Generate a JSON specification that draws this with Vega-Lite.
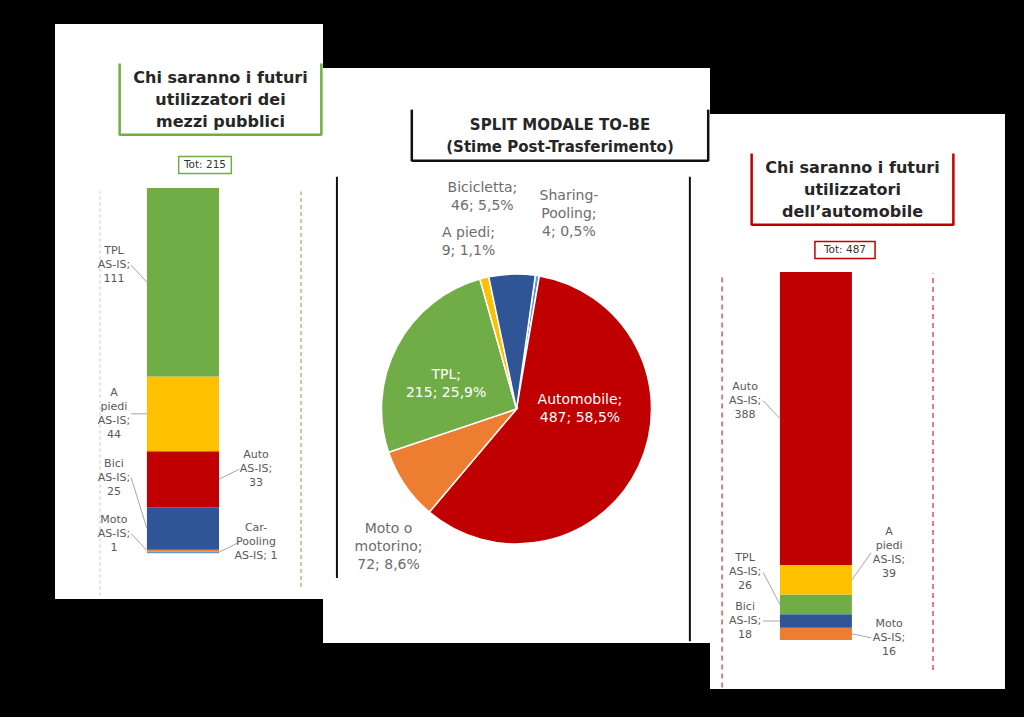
{
  "$schema": "https://vega.github.io/schema/vega-lite/v6.json",
  "background": "black",
  "padding": {"left": 55, "top": 24, "right": 19, "bottom": 28},
  "config": {"view": {"stroke": null, "fill": "white"}, "font": "DejaVu Sans"},
  "datasets": {
    "tpl": [
      {"modo": "Car-Pooling", "valore": 1, "ordine": 1, "etichetta": "Car-\nPooling\nAS-IS; 1"},
      {"modo": "Moto", "valore": 1, "ordine": 2, "etichetta": "Moto\nAS-IS;\n1"},
      {"modo": "Bici", "valore": 25, "ordine": 3, "etichetta": "Bici\nAS-IS;\n25"},
      {"modo": "Auto", "valore": 33, "ordine": 4, "etichetta": "Auto\nAS-IS;\n33"},
      {"modo": "A piedi", "valore": 44, "ordine": 5, "etichetta": "A\npiedi\nAS-IS;\n44"},
      {"modo": "TPL", "valore": 111, "ordine": 6, "etichetta": "TPL\nAS-IS;\n111"}
    ],
    "auto": [
      {"modo": "Moto", "valore": 16, "ordine": 1, "etichetta": "Moto\nAS-IS;\n16"},
      {"modo": "Bici", "valore": 18, "ordine": 2, "etichetta": "Bici\nAS-IS;\n18"},
      {"modo": "TPL", "valore": 26, "ordine": 3, "etichetta": "TPL\nAS-IS;\n26"},
      {"modo": "A piedi", "valore": 39, "ordine": 4, "etichetta": "A\npiedi\nAS-IS;\n39"},
      {"modo": "Auto", "valore": 388, "ordine": 5, "etichetta": "Auto\nAS-IS;\n388"}
    ],
    "split": [
      {"modo": "Sharing-Pooling", "valore": 4, "ordine": 1, "etichetta": "Sharing-\nPooling;\n4; 0,5%"},
      {"modo": "Automobile", "valore": 487, "ordine": 2, "etichetta": "Automobile;\n487; 58,5%"},
      {"modo": "Moto o motorino", "valore": 72, "ordine": 3, "etichetta": "Moto o\nmotorino;\n72; 8,6%"},
      {"modo": "TPL", "valore": 215, "ordine": 4, "etichetta": "TPL;\n215;  25,9%"},
      {"modo": "A piedi", "valore": 9, "ordine": 5, "etichetta": "A piedi;\n9; 1,1%"},
      {"modo": "Bicicletta", "valore": 46, "ordine": 6, "etichetta": "Bicicletta;\n46; 5,5%"}
    ],
    "uno": [{}]
  },
  "spacing": 0,
  "hconcat": [
    {
      "spacing": 0,
      "vconcat": [
        {"width": 268, "height": 38, "data": {"name": "uno"}, "mark": {"type": "rect", "color": "white"}, "encoding": {"x": {"datum": 0, "type": "quantitative", "scale": {"domain": [0, 1]}, "axis": null}, "x2": {"datum": 1}, "y": {"datum": 0, "type": "quantitative", "scale": {"domain": [0, 1]}, "axis": null}, "y2": {"datum": 1}}},
        {"spacing": 0, "hconcat": [
          {"width": 63, "height": 75, "data": {"name": "uno"}, "mark": {"type": "rect", "color": "white"}, "encoding": {"x": {"datum": 0, "type": "quantitative", "scale": {"domain": [0, 1]}, "axis": null}, "x2": {"datum": 1}, "y": {"datum": 0, "type": "quantitative", "scale": {"domain": [0, 1]}, "axis": null}, "y2": {"datum": 1}}},
          {"width": 205, "height": 75,
           "data": {"values": [{"t": "Chi saranno i futuri\nutilizzatori dei\nmezzi pubblici"}]},
           "layer": [
             {"mark": {"type": "rule", "color": "#70ad47", "strokeWidth": 2.5}, "encoding": {"x": {"datum": 0.008, "type": "quantitative", "scale": {"domain": [0, 1]}, "axis": null}, "y": {"datum": 0.02, "type": "quantitative", "scale": {"domain": [0, 1]}, "axis": null}, "y2": {"datum": 0.98}}},
             {"mark": {"type": "rule", "color": "#70ad47", "strokeWidth": 2.5}, "encoding": {"x": {"datum": 0.992, "type": "quantitative", "scale": {"domain": [0, 1]}, "axis": null}, "y": {"datum": 0.02, "type": "quantitative", "scale": {"domain": [0, 1]}, "axis": null}, "y2": {"datum": 0.98}}},
             {"mark": {"type": "rule", "color": "#70ad47", "strokeWidth": 2.5}, "encoding": {"x": {"datum": 0.008, "type": "quantitative", "scale": {"domain": [0, 1]}, "axis": null}, "x2": {"datum": 0.992}, "y": {"datum": 0.03, "type": "quantitative", "scale": {"domain": [0, 1]}, "axis": null}}},
             {"mark": {"type": "text", "dy": -22, "fontSize": 16, "fontWeight": "bold", "lineHeight": 22, "color": "#262626", "align": "center", "baseline": "middle", "lineBreak": "\n"}, "encoding": {"x": {"datum": 0.5, "type": "quantitative", "scale": {"domain": [0, 1]}, "axis": null}, "y": {"datum": 0.5, "type": "quantitative", "scale": {"domain": [0, 1]}, "axis": null}, "text": {"field": "t"}}}
           ]}
        ]},
        {"width": 268, "height": 18, "data": {"name": "uno"}, "mark": {"type": "rect", "color": "white"}, "encoding": {"x": {"datum": 0, "type": "quantitative", "scale": {"domain": [0, 1]}, "axis": null}, "x2": {"datum": 1}, "y": {"datum": 0, "type": "quantitative", "scale": {"domain": [0, 1]}, "axis": null}, "y2": {"datum": 1}}},
        {"spacing": 0, "hconcat": [
          {"width": 122, "height": 20, "data": {"name": "uno"}, "mark": {"type": "rect", "color": "white"}, "encoding": {"x": {"datum": 0, "type": "quantitative", "scale": {"domain": [0, 1]}, "axis": null}, "x2": {"datum": 1}, "y": {"datum": 0, "type": "quantitative", "scale": {"domain": [0, 1]}, "axis": null}, "y2": {"datum": 1}}},
          {"width": 56, "height": 20,
           "data": {"values": [{"t": "Tot: 215"}]},
           "layer": [
             {"mark": {"type": "rect", "fill": "white", "stroke": "#70ad47", "strokeWidth": 1.5}, "encoding": {"x": {"datum": 0.03, "type": "quantitative", "scale": {"domain": [0, 1]}, "axis": null}, "x2": {"datum": 0.97}, "y": {"datum": 0.07, "type": "quantitative", "scale": {"domain": [0, 1]}, "axis": null}, "y2": {"datum": 0.93}}},
             {"mark": {"type": "text", "fontSize": 10.5, "color": "#333333", "align": "center", "baseline": "middle"}, "encoding": {"x": {"datum": 0.5, "type": "quantitative", "scale": {"domain": [0, 1]}, "axis": null}, "y": {"datum": 0.5, "type": "quantitative", "scale": {"domain": [0, 1]}, "axis": null}, "text": {"field": "t"}}}
           ]},
          {"width": 90, "height": 20, "data": {"name": "uno"}, "mark": {"type": "rect", "color": "white"}, "encoding": {"x": {"datum": 0, "type": "quantitative", "scale": {"domain": [0, 1]}, "axis": null}, "x2": {"datum": 1}, "y": {"datum": 0, "type": "quantitative", "scale": {"domain": [0, 1]}, "axis": null}, "y2": {"datum": 1}}}
        ]},
        {"width": 268, "height": 13, "data": {"name": "uno"}, "mark": {"type": "rect", "color": "white"}, "encoding": {"x": {"datum": 0, "type": "quantitative", "scale": {"domain": [0, 1]}, "axis": null}, "x2": {"datum": 1}, "y": {"datum": 0, "type": "quantitative", "scale": {"domain": [0, 1]}, "axis": null}, "y2": {"datum": 1}}},
        {
          "width": 268, "height": 411,
          "data": {"name": "tpl"},
          "transform": [
            {"stack": "valore", "groupby": [], "sort": [{"field": "ordine", "order": "ascending"}], "as": ["y0", "y1"]},
            {"calculate": "(datum.y0 + datum.y1) / 2", "as": "ym"}
          ],
          "layer": [
            {"data": {"name": "uno"}, "mark": {"type": "rule", "color": "#c8c8c8", "strokeDash": [3, 3], "strokeWidth": 1}, "encoding": {"x": {"datum": 0.168, "type": "quantitative", "scale": {"domain": [0, 1]}, "axis": null}, "y": {"datum": -25, "type": "quantitative", "scale": {"domain": [-27, 215], "nice": false, "zero": false}, "axis": null}, "y2": {"datum": 213}}},
            {"data": {"name": "uno"}, "mark": {"type": "rule", "color": "#9dc97e", "strokeDash": [4, 3], "strokeWidth": 1.5}, "encoding": {"x": {"datum": 0.918, "type": "quantitative", "axis": null}, "y": {"datum": -20, "type": "quantitative", "axis": null}, "y2": {"datum": 213}}},
            {"mark": {"type": "bar"}, "encoding": {
              "x": {"datum": 0.343, "type": "quantitative", "scale": {"domain": [0, 1]}, "axis": null},
              "x2": {"datum": 0.612},
              "y": {"field": "y0", "type": "quantitative", "scale": {"domain": [-27, 215], "nice": false, "zero": false}, "axis": null},
              "y2": {"field": "y1"},
              "color": {"field": "modo", "type": "nominal", "legend": null, "scale": {"domain": ["TPL", "A piedi", "Auto", "Bici", "Moto", "Car-Pooling", "Automobile", "Moto o motorino", "Bicicletta", "Sharing-Pooling"], "range": ["#70ad47", "#ffc000", "#c00000", "#2f5597", "#ed7d31", "#5b9bd5", "#c00000", "#ed7d31", "#2f5597", "#5b9bd5"]}}
            }},
            {"transform": [{"filter": {"field": "modo", "oneOf": ["TPL", "Moto"]}}], "mark": {"type": "rule", "yOffset": -17, "color": "#a6a6a6", "strokeWidth": 1}, "encoding": {"x": {"datum": 0.284, "type": "quantitative", "axis": null}, "x2": {"datum": 0.343}, "y": {"field": "ym", "type": "quantitative", "axis": null}, "y2": {"field": "ym"}}},
            {"transform": [{"filter": {"field": "modo", "oneOf": ["TPL", "Moto"]}}], "mark": {"type": "text", "dy": -31, "fontSize": 11, "lineHeight": 14, "color": "#595959", "align": "center", "baseline": "middle", "lineBreak": "\n"}, "encoding": {"x": {"datum": 0.22, "type": "quantitative", "axis": null}, "y": {"field": "ym", "type": "quantitative", "axis": null}, "text": {"field": "etichetta"}}},
            {"transform": [{"filter": {"field": "modo", "equal": "A piedi"}}], "mark": {"type": "rule", "color": "#a6a6a6", "strokeWidth": 1}, "encoding": {"x": {"datum": 0.284, "type": "quantitative", "axis": null}, "x2": {"datum": 0.343}, "y": {"field": "ym", "type": "quantitative", "axis": null}, "y2": {"field": "ym"}}},
            {"transform": [{"filter": {"field": "modo", "equal": "A piedi"}}], "mark": {"type": "text", "dy": -21, "fontSize": 11, "lineHeight": 14, "color": "#595959", "align": "center", "baseline": "middle", "lineBreak": "\n"}, "encoding": {"x": {"datum": 0.22, "type": "quantitative", "axis": null}, "y": {"field": "ym", "type": "quantitative", "axis": null}, "text": {"field": "etichetta"}}},
            {"transform": [{"filter": {"field": "modo", "equal": "Bici"}}], "mark": {"type": "rule", "yOffset": -51, "color": "#a6a6a6", "strokeWidth": 1}, "encoding": {"x": {"datum": 0.284, "type": "quantitative", "axis": null}, "x2": {"datum": 0.343}, "y": {"field": "ym", "type": "quantitative", "axis": null}, "y2": {"field": "ym"}}},
            {"transform": [{"filter": {"field": "modo", "equal": "Bici"}}], "mark": {"type": "text", "dy": -65, "fontSize": 11, "lineHeight": 14, "color": "#595959", "align": "center", "baseline": "middle", "lineBreak": "\n"}, "encoding": {"x": {"datum": 0.22, "type": "quantitative", "axis": null}, "y": {"field": "ym", "type": "quantitative", "axis": null}, "text": {"field": "etichetta"}}},
            {"transform": [{"filter": {"field": "modo", "oneOf": ["Auto", "Car-Pooling"]}}], "mark": {"type": "rule", "yOffset": -10, "color": "#a6a6a6", "strokeWidth": 1}, "encoding": {"x": {"datum": 0.687, "type": "quantitative", "axis": null}, "x2": {"datum": 0.612}, "y": {"field": "ym", "type": "quantitative", "axis": null}, "y2": {"field": "ym"}}},
            {"transform": [{"filter": {"field": "modo", "oneOf": ["Auto", "Car-Pooling"]}}], "mark": {"type": "text", "dy": -24, "fontSize": 11, "lineHeight": 14, "color": "#595959", "align": "center", "baseline": "middle", "lineBreak": "\n"}, "encoding": {"x": {"datum": 0.75, "type": "quantitative", "axis": null}, "y": {"field": "ym", "type": "quantitative", "axis": null}, "text": {"field": "etichetta"}}}
          ]
        }
      ]
    },
    {
      "spacing": 0,
      "vconcat": [
        {"width": 387, "height": 44, "data": {"name": "uno"}, "mark": {"type": "rect", "color": "black"}, "encoding": {"x": {"datum": 0, "type": "quantitative", "scale": {"domain": [0, 1]}, "axis": null}, "x2": {"datum": 1}, "y": {"datum": 0, "type": "quantitative", "scale": {"domain": [0, 1]}, "axis": null}, "y2": {"datum": 1}}},
        {"width": 387, "height": 40, "data": {"name": "uno"}, "mark": {"type": "rect", "color": "white"}, "encoding": {"x": {"datum": 0, "type": "quantitative", "scale": {"domain": [0, 1]}, "axis": null}, "x2": {"datum": 1}, "y": {"datum": 0, "type": "quantitative", "scale": {"domain": [0, 1]}, "axis": null}, "y2": {"datum": 1}}},
        {"spacing": 0, "hconcat": [
          {"width": 87, "height": 55, "data": {"name": "uno"}, "mark": {"type": "rect", "color": "white"}, "encoding": {"x": {"datum": 0, "type": "quantitative", "scale": {"domain": [0, 1]}, "axis": null}, "x2": {"datum": 1}, "y": {"datum": 0, "type": "quantitative", "scale": {"domain": [0, 1]}, "axis": null}, "y2": {"datum": 1}}},
          {"width": 300, "height": 55,
           "data": {"values": [{"t": "SPLIT MODALE TO-BE\n(Stime Post-Trasferimento)"}]},
           "layer": [
             {"mark": {"type": "rule", "color": "#111111", "strokeWidth": 2.5}, "encoding": {"x": {"datum": 0.006, "type": "quantitative", "scale": {"domain": [0, 1]}, "axis": null}, "y": {"datum": 0.03, "type": "quantitative", "scale": {"domain": [0, 1]}, "axis": null}, "y2": {"datum": 0.97}}},
             {"mark": {"type": "rule", "color": "#111111", "strokeWidth": 2.5}, "encoding": {"x": {"datum": 0.994, "type": "quantitative", "scale": {"domain": [0, 1]}, "axis": null}, "y": {"datum": 0.03, "type": "quantitative", "scale": {"domain": [0, 1]}, "axis": null}, "y2": {"datum": 0.97}}},
             {"mark": {"type": "rule", "color": "#111111", "strokeWidth": 2.5}, "encoding": {"x": {"datum": 0.006, "type": "quantitative", "scale": {"domain": [0, 1]}, "axis": null}, "x2": {"datum": 0.994}, "y": {"datum": 0.04, "type": "quantitative", "scale": {"domain": [0, 1]}, "axis": null}}},
             {"mark": {"type": "text", "dy": -11, "fontSize": 15, "fontWeight": "bold", "lineHeight": 22, "color": "#262626", "align": "center", "baseline": "middle", "lineBreak": "\n"}, "encoding": {"x": {"datum": 0.5, "type": "quantitative", "scale": {"domain": [0, 1]}, "axis": null}, "y": {"datum": 0.5, "type": "quantitative", "scale": {"domain": [0, 1]}, "axis": null}, "text": {"field": "t"}}}
           ]}
        ]},
        {"width": 387, "height": 12, "data": {"name": "uno"}, "mark": {"type": "rect", "color": "white"}, "encoding": {"x": {"datum": 0, "type": "quantitative", "scale": {"domain": [0, 1]}, "axis": null}, "x2": {"datum": 1}, "y": {"datum": 0, "type": "quantitative", "scale": {"domain": [0, 1]}, "axis": null}, "y2": {"datum": 1}}},
        {
          "width": 387, "height": 468,
          "data": {"name": "split"},
          "transform": [
            {"stack": "valore", "groupby": [], "sort": [{"field": "ordine", "order": "ascending"}], "as": ["t0", "t1"]},
            {"calculate": "(datum.t0 + datum.t1) / 2", "as": "tm"}
          ],
          "layer": [
            {"data": {"name": "uno"}, "mark": {"type": "rect", "color": "white"}, "encoding": {"x": {"datum": 0, "type": "quantitative", "scale": {"domain": [0, 1]}, "axis": null}, "x2": {"datum": 1}, "y": {"datum": 0, "type": "quantitative", "scale": {"domain": [0, 1]}, "axis": null}, "y2": {"datum": 1}}},
            {"data": {"name": "uno"}, "mark": {"type": "rule", "color": "#111111", "strokeWidth": 2}, "encoding": {"x": {"datum": 0.036, "type": "quantitative", "axis": null}, "y": {"datum": 0.996, "type": "quantitative", "axis": null}, "y2": {"datum": 0.139}}},
            {"data": {"name": "uno"}, "mark": {"type": "rule", "color": "#111111", "strokeWidth": 2}, "encoding": {"x": {"datum": 0.948, "type": "quantitative", "axis": null}, "y": {"datum": 0.996, "type": "quantitative", "axis": null}, "y2": {"datum": 0.004}}},
            {"mark": {"type": "arc", "outerRadius": 135, "stroke": "white", "strokeWidth": 1.5}, "encoding": {
              "theta": {"field": "t0", "type": "quantitative", "stack": null, "scale": {"domain": [0, 833], "range": [0.14, 6.4232]}},
              "theta2": {"field": "t1"},
              "color": {"field": "modo", "type": "nominal", "legend": null, "scale": {"domain": ["TPL", "A piedi", "Auto", "Bici", "Moto", "Car-Pooling", "Automobile", "Moto o motorino", "Bicicletta", "Sharing-Pooling"], "range": ["#70ad47", "#ffc000", "#c00000", "#2f5597", "#ed7d31", "#5b9bd5", "#c00000", "#ed7d31", "#2f5597", "#5b9bd5"]}}
            }},
            {"transform": [{"filter": {"field": "modo", "equal": "Bicicletta"}}], "mark": {"type": "text", "radius": 212, "dx": -27, "dy": -9, "fontSize": 14, "lineHeight": 18, "color": "#6d6d6d", "align": "center", "baseline": "middle", "lineBreak": "\n"}, "encoding": {"theta": {"field": "tm", "type": "quantitative", "stack": null}, "text": {"field": "etichetta"}}},
            {"transform": [{"filter": {"field": "modo", "equal": "A piedi"}}], "mark": {"type": "text", "radius": 172, "dx": -7, "dy": -9, "fontSize": 14, "lineHeight": 18, "color": "#6d6d6d", "align": "center", "baseline": "middle", "lineBreak": "\n"}, "encoding": {"theta": {"field": "tm", "type": "quantitative", "stack": null}, "text": {"field": "etichetta"}}},
            {"transform": [{"filter": {"field": "modo", "equal": "Sharing-Pooling"}}], "mark": {"type": "text", "radius": 197, "dx": 22, "dy": -18, "fontSize": 14, "lineHeight": 18, "color": "#6d6d6d", "align": "center", "baseline": "middle", "lineBreak": "\n"}, "encoding": {"theta": {"field": "tm", "type": "quantitative", "stack": null}, "text": {"field": "etichetta"}}},
            {"transform": [{"filter": {"field": "modo", "equal": "Moto o motorino"}}], "mark": {"type": "text", "radius": 185, "dx": 25, "dy": 16, "fontSize": 14, "lineHeight": 18, "color": "#6d6d6d", "align": "center", "baseline": "middle", "lineBreak": "\n"}, "encoding": {"theta": {"field": "tm", "type": "quantitative", "stack": null}, "text": {"field": "etichetta"}}},
            {"transform": [{"filter": {"field": "modo", "equal": "TPL"}}], "mark": {"type": "text", "radius": 75, "dx": -4, "dy": 1, "fontSize": 14, "lineHeight": 18, "color": "white", "align": "center", "baseline": "middle", "lineBreak": "\n"}, "encoding": {"theta": {"field": "tm", "type": "quantitative", "stack": null}, "text": {"field": "etichetta"}}},
            {"transform": [{"filter": {"field": "modo", "equal": "Automobile"}}], "mark": {"type": "text", "radius": 70, "dy": -39, "fontSize": 14, "lineHeight": 18, "color": "white", "align": "center", "baseline": "middle", "lineBreak": "\n"}, "encoding": {"theta": {"field": "tm", "type": "quantitative", "stack": null}, "text": {"field": "etichetta"}}}
          ]
        }
      ]
    },
    {
      "spacing": 0,
      "vconcat": [
        {"width": 295, "height": 90, "data": {"name": "uno"}, "mark": {"type": "rect", "color": "black"}, "encoding": {"x": {"datum": 0, "type": "quantitative", "scale": {"domain": [0, 1]}, "axis": null}, "x2": {"datum": 1}, "y": {"datum": 0, "type": "quantitative", "scale": {"domain": [0, 1]}, "axis": null}, "y2": {"datum": 1}}},
        {"width": 295, "height": 38, "data": {"name": "uno"}, "mark": {"type": "rect", "color": "white"}, "encoding": {"x": {"datum": 0, "type": "quantitative", "scale": {"domain": [0, 1]}, "axis": null}, "x2": {"datum": 1}, "y": {"datum": 0, "type": "quantitative", "scale": {"domain": [0, 1]}, "axis": null}, "y2": {"datum": 1}}},
        {"spacing": 0, "hconcat": [
          {"width": 40, "height": 75, "data": {"name": "uno"}, "mark": {"type": "rect", "color": "white"}, "encoding": {"x": {"datum": 0, "type": "quantitative", "scale": {"domain": [0, 1]}, "axis": null}, "x2": {"datum": 1}, "y": {"datum": 0, "type": "quantitative", "scale": {"domain": [0, 1]}, "axis": null}, "y2": {"datum": 1}}},
          {"width": 205, "height": 75,
           "data": {"values": [{"t": "Chi saranno i futuri\nutilizzatori\ndell’automobile"}]},
           "layer": [
             {"mark": {"type": "rule", "color": "#c00000", "strokeWidth": 2.5}, "encoding": {"x": {"datum": 0.008, "type": "quantitative", "scale": {"domain": [0, 1]}, "axis": null}, "y": {"datum": 0.02, "type": "quantitative", "scale": {"domain": [0, 1]}, "axis": null}, "y2": {"datum": 0.98}}},
             {"mark": {"type": "rule", "color": "#c00000", "strokeWidth": 2.5}, "encoding": {"x": {"datum": 0.992, "type": "quantitative", "scale": {"domain": [0, 1]}, "axis": null}, "y": {"datum": 0.02, "type": "quantitative", "scale": {"domain": [0, 1]}, "axis": null}, "y2": {"datum": 0.98}}},
             {"mark": {"type": "rule", "color": "#c00000", "strokeWidth": 2.5}, "encoding": {"x": {"datum": 0.008, "type": "quantitative", "scale": {"domain": [0, 1]}, "axis": null}, "x2": {"datum": 0.992}, "y": {"datum": 0.03, "type": "quantitative", "scale": {"domain": [0, 1]}, "axis": null}}},
             {"mark": {"type": "text", "dy": -22, "fontSize": 16, "fontWeight": "bold", "lineHeight": 22, "color": "#262626", "align": "center", "baseline": "middle", "lineBreak": "\n"}, "encoding": {"x": {"datum": 0.5, "type": "quantitative", "scale": {"domain": [0, 1]}, "axis": null}, "y": {"datum": 0.5, "type": "quantitative", "scale": {"domain": [0, 1]}, "axis": null}, "text": {"field": "t"}}}
           ]},
          {"width": 50, "height": 75, "data": {"name": "uno"}, "mark": {"type": "rect", "color": "white"}, "encoding": {"x": {"datum": 0, "type": "quantitative", "scale": {"domain": [0, 1]}, "axis": null}, "x2": {"datum": 1}, "y": {"datum": 0, "type": "quantitative", "scale": {"domain": [0, 1]}, "axis": null}, "y2": {"datum": 1}}}
        ]},
        {"width": 295, "height": 13, "data": {"name": "uno"}, "mark": {"type": "rect", "color": "white"}, "encoding": {"x": {"datum": 0, "type": "quantitative", "scale": {"domain": [0, 1]}, "axis": null}, "x2": {"datum": 1}, "y": {"datum": 0, "type": "quantitative", "scale": {"domain": [0, 1]}, "axis": null}, "y2": {"datum": 1}}},
        {"spacing": 0, "hconcat": [
          {"width": 103, "height": 20, "data": {"name": "uno"}, "mark": {"type": "rect", "color": "white"}, "encoding": {"x": {"datum": 0, "type": "quantitative", "scale": {"domain": [0, 1]}, "axis": null}, "x2": {"datum": 1}, "y": {"datum": 0, "type": "quantitative", "scale": {"domain": [0, 1]}, "axis": null}, "y2": {"datum": 1}}},
          {"width": 64, "height": 20,
           "data": {"values": [{"t": "Tot: 487"}]},
           "layer": [
             {"mark": {"type": "rect", "fill": "white", "stroke": "#c00000", "strokeWidth": 1.5}, "encoding": {"x": {"datum": 0.03, "type": "quantitative", "scale": {"domain": [0, 1]}, "axis": null}, "x2": {"datum": 0.97}, "y": {"datum": 0.07, "type": "quantitative", "scale": {"domain": [0, 1]}, "axis": null}, "y2": {"datum": 0.93}}},
             {"mark": {"type": "text", "fontSize": 10.5, "color": "#333333", "align": "center", "baseline": "middle"}, "encoding": {"x": {"datum": 0.5, "type": "quantitative", "scale": {"domain": [0, 1]}, "axis": null}, "y": {"datum": 0.5, "type": "quantitative", "scale": {"domain": [0, 1]}, "axis": null}, "text": {"field": "t"}}}
           ]},
          {"width": 128, "height": 20, "data": {"name": "uno"}, "mark": {"type": "rect", "color": "white"}, "encoding": {"x": {"datum": 0, "type": "quantitative", "scale": {"domain": [0, 1]}, "axis": null}, "x2": {"datum": 1}, "y": {"datum": 0, "type": "quantitative", "scale": {"domain": [0, 1]}, "axis": null}, "y2": {"datum": 1}}}
        ]},
        {"width": 295, "height": 12, "data": {"name": "uno"}, "mark": {"type": "rect", "color": "white"}, "encoding": {"x": {"datum": 0, "type": "quantitative", "scale": {"domain": [0, 1]}, "axis": null}, "x2": {"datum": 1}, "y": {"datum": 0, "type": "quantitative", "scale": {"domain": [0, 1]}, "axis": null}, "y2": {"datum": 1}}},
        {
          "width": 295, "height": 417,
          "data": {"name": "auto"},
          "transform": [
            {"stack": "valore", "groupby": [], "sort": [{"field": "ordine", "order": "ascending"}], "as": ["y0", "y1"]},
            {"calculate": "(datum.y0 + datum.y1) / 2", "as": "ym"}
          ],
          "layer": [
            {"data": {"name": "uno"}, "mark": {"type": "rule", "color": "#d9535b", "strokeDash": [5, 4], "strokeWidth": 1.5}, "encoding": {"x": {"datum": 0.041, "type": "quantitative", "scale": {"domain": [0, 1]}, "axis": null}, "y": {"datum": -63, "type": "quantitative", "scale": {"domain": [-65, 487], "nice": false, "zero": false}, "axis": null}, "y2": {"datum": 485}}},
            {"data": {"name": "uno"}, "mark": {"type": "rule", "color": "#d9535b", "strokeDash": [5, 4], "strokeWidth": 1.5}, "encoding": {"x": {"datum": 0.756, "type": "quantitative", "axis": null}, "y": {"datum": -40, "type": "quantitative", "axis": null}, "y2": {"datum": 485}}},
            {"mark": {"type": "bar"}, "encoding": {
              "x": {"datum": 0.237, "type": "quantitative", "scale": {"domain": [0, 1]}, "axis": null},
              "x2": {"datum": 0.481},
              "y": {"field": "y0", "type": "quantitative", "scale": {"domain": [-65, 487], "nice": false, "zero": false}, "axis": null},
              "y2": {"field": "y1"},
              "color": {"field": "modo", "type": "nominal", "legend": null, "scale": {"domain": ["TPL", "A piedi", "Auto", "Bici", "Moto", "Car-Pooling", "Automobile", "Moto o motorino", "Bicicletta", "Sharing-Pooling"], "range": ["#70ad47", "#ffc000", "#c00000", "#2f5597", "#ed7d31", "#5b9bd5", "#c00000", "#ed7d31", "#2f5597", "#5b9bd5"]}}
            }},
            {"transform": [{"filter": {"field": "modo", "equal": "Auto"}}], "mark": {"type": "rule", "yOffset": -18, "color": "#a6a6a6", "strokeWidth": 1}, "encoding": {"x": {"datum": 0.18, "type": "quantitative", "axis": null}, "x2": {"datum": 0.237}, "y": {"field": "ym", "type": "quantitative", "axis": null}, "y2": {"field": "ym"}}},
            {"transform": [{"filter": {"field": "modo", "equal": "Auto"}}], "mark": {"type": "text", "dy": -32, "fontSize": 11, "lineHeight": 14, "color": "#595959", "align": "center", "baseline": "middle", "lineBreak": "\n"}, "encoding": {"x": {"datum": 0.119, "type": "quantitative", "axis": null}, "y": {"field": "ym", "type": "quantitative", "axis": null}, "text": {"field": "etichetta"}}},
            {"transform": [{"filter": {"field": "modo", "equal": "TPL"}}], "mark": {"type": "rule", "yOffset": -32, "color": "#a6a6a6", "strokeWidth": 1}, "encoding": {"x": {"datum": 0.18, "type": "quantitative", "axis": null}, "x2": {"datum": 0.237}, "y": {"field": "ym", "type": "quantitative", "axis": null}, "y2": {"field": "ym"}}},
            {"transform": [{"filter": {"field": "modo", "equal": "TPL"}}], "mark": {"type": "text", "dy": -46, "fontSize": 11, "lineHeight": 14, "color": "#595959", "align": "center", "baseline": "middle", "lineBreak": "\n"}, "encoding": {"x": {"datum": 0.119, "type": "quantitative", "axis": null}, "y": {"field": "ym", "type": "quantitative", "axis": null}, "text": {"field": "etichetta"}}},
            {"transform": [{"filter": {"field": "modo", "equal": "Bici"}}], "mark": {"type": "rule", "color": "#a6a6a6", "strokeWidth": 1}, "encoding": {"x": {"datum": 0.18, "type": "quantitative", "axis": null}, "x2": {"datum": 0.237}, "y": {"field": "ym", "type": "quantitative", "axis": null}, "y2": {"field": "ym"}}},
            {"transform": [{"filter": {"field": "modo", "equal": "Bici"}}], "mark": {"type": "text", "dy": -14, "fontSize": 11, "lineHeight": 14, "color": "#595959", "align": "center", "baseline": "middle", "lineBreak": "\n"}, "encoding": {"x": {"datum": 0.119, "type": "quantitative", "axis": null}, "y": {"field": "ym", "type": "quantitative", "axis": null}, "text": {"field": "etichetta"}}},
            {"transform": [{"filter": {"field": "modo", "equal": "A piedi"}}], "mark": {"type": "rule", "yOffset": -27, "color": "#a6a6a6", "strokeWidth": 1}, "encoding": {"x": {"datum": 0.546, "type": "quantitative", "axis": null}, "x2": {"datum": 0.481}, "y": {"field": "ym", "type": "quantitative", "axis": null}, "y2": {"field": "ym"}}},
            {"transform": [{"filter": {"field": "modo", "equal": "A piedi"}}], "mark": {"type": "text", "dy": -48, "fontSize": 11, "lineHeight": 14, "color": "#595959", "align": "center", "baseline": "middle", "lineBreak": "\n"}, "encoding": {"x": {"datum": 0.607, "type": "quantitative", "axis": null}, "y": {"field": "ym", "type": "quantitative", "axis": null}, "text": {"field": "etichetta"}}},
            {"transform": [{"filter": {"field": "modo", "equal": "Moto"}}], "mark": {"type": "rule", "yOffset": 4, "color": "#a6a6a6", "strokeWidth": 1}, "encoding": {"x": {"datum": 0.546, "type": "quantitative", "axis": null}, "x2": {"datum": 0.481}, "y": {"field": "ym", "type": "quantitative", "axis": null}, "y2": {"field": "ym"}}},
            {"transform": [{"filter": {"field": "modo", "equal": "Moto"}}], "mark": {"type": "text", "dy": -10, "fontSize": 11, "lineHeight": 14, "color": "#595959", "align": "center", "baseline": "middle", "lineBreak": "\n"}, "encoding": {"x": {"datum": 0.607, "type": "quantitative", "axis": null}, "y": {"field": "ym", "type": "quantitative", "axis": null}, "text": {"field": "etichetta"}}}
          ]
        }
      ]
    }
  ]
}
